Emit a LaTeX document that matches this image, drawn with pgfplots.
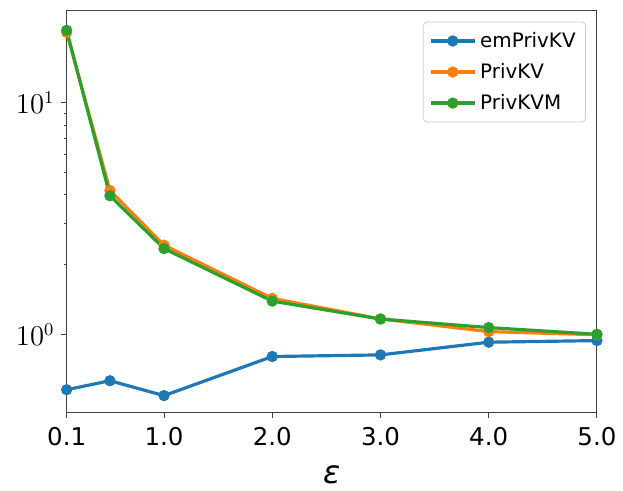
\documentclass[border=0pt]{standalone}
\usepackage{pgfplots}
\pgfplotsset{compat=1.18}
\usepackage{fontspec}
\setmainfont{DejaVu Sans}
\definecolor{tabblue}{HTML}{1F77B4}
\definecolor{taborange}{HTML}{FF7F0E}
\definecolor{tabgreen}{HTML}{2CA02C}
\begin{document}
\begin{tikzpicture}
\begin{axis}[
  scale only axis,
  width=266.5pt, height=202pt,
  xmode=linear, ymode=log,
  xmin=0.1, xmax=5.0,
  ymin=0.461, ymax=24.8,
  xtick={0.1,1,2,3,4,5},
  xticklabels={0.1,1.0,2.0,3.0,4.0,5.0},
  ytick={1,10},
  tick pos=left,
  tick align=outside,
  major tick length=2.7pt,
  minor tick length=1.5pt,
  axis line style={black!75, line width=0.5pt},
  every tick/.style={black!75, line width=0.5pt},
  xticklabel style={font=\fontsize{12.3}{14}\selectfont, yshift=-1pt},
  yticklabel style={font=\fontsize{13.5}{15}\selectfont},
  xlabel={\itshape ε},
  xlabel style={font=\fontsize{16}{18}\selectfont, yshift=-3pt},
  clip=false,
  every axis plot/.append style={line width=1.6pt, mark=*, mark size=2pt},
  legend style={at={(0.9794,0.9735)}, anchor=north east, draw=black!20,
    rounded corners=2pt, fill=white, fill opacity=0.8, text opacity=1,
    font=\fontsize{10}{12}\selectfont, row sep=2.5pt, inner sep=3pt},
  legend cell align=left,
  legend image code/.code={\draw[mark repeat=2,mark phase=2,#1] plot coordinates {(0pt,0pt) (11pt,0pt) (22pt,0pt)};},
]
\addplot[tabblue] coordinates {(0.1,0.58) (0.5,0.634) (1,0.547) (2,0.806) (3,0.819) (4,0.929) (5,0.944)};
\addlegendentry{emPrivKV}
\addplot[taborange] coordinates {(0.1,20.05) (0.5,4.18) (1,2.43) (2,1.434) (3,1.17) (4,1.032) (5,1.0)};
\addlegendentry{PrivKV}
\addplot[tabgreen] coordinates {(0.1,20.46) (0.5,3.97) (1,2.35) (2,1.396) (3,1.169) (4,1.074) (5,1.005)};
\addlegendentry{PrivKVM}
\end{axis}
\path (current axis.south west) ++(-33.5pt,-33.5pt) coordinate (bl);
\path (current axis.north east) ++(11.5pt,5.5pt) coordinate (tr);
\path (bl) rectangle (tr);
\end{tikzpicture}
\end{document}
